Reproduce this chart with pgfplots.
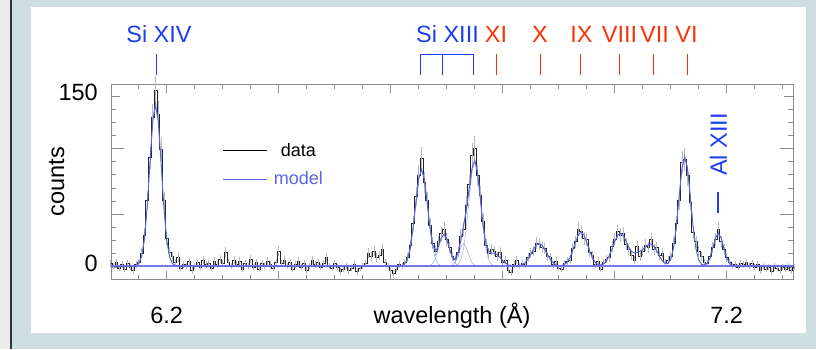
\documentclass[border=0pt]{standalone}
\usepackage{fontspec}
\setmainfont{Liberation Sans}
\usepackage{pgfplots}
\usepackage{pgfplotstable}
\pgfplotsset{compat=1.18}

\definecolor{bgpanel}{RGB}{205,223,227}
\definecolor{stripgrey}{RGB}{236,236,236}
\definecolor{idblue}{RGB}{28,60,245}
\definecolor{idred}{RGB}{250,50,10}
\definecolor{modelblue}{RGB}{90,100,228}
\definecolor{complight}{RGB}{160,170,240}
\definecolor{tickgrey}{RGB}{140,140,140}

% binned spectrum: bin centre (Angstrom), counts
\pgfplotstableread{
x y
6.100 3
6.105 1
6.110 4
6.115 -1
6.120 2
6.125 -2
6.130 3
6.135 0
6.140 -3
6.145 2
6.150 4
6.155 12
6.160 28
6.165 58
6.170 96
6.175 131
6.180 155
6.185 134
6.190 103
6.195 58
6.200 25
6.205 13
6.210 9
6.215 4
6.220 8
6.225 -1
6.230 2
6.235 1
6.240 5
6.245 -3
6.250 1
6.255 4
6.260 0
6.265 6
6.270 2
6.275 3
6.280 -1
6.285 5
6.290 2
6.295 7
6.300 3
6.305 13
6.310 4
6.315 1
6.320 6
6.325 2
6.330 5
6.335 -2
6.340 3
6.345 1
6.350 7
6.355 0
6.360 4
6.365 -2
6.370 3
6.375 1
6.380 5
6.385 2
6.390 -1
6.395 4
6.400 14
6.405 3
6.410 6
6.415 1
6.420 4
6.425 -2
6.430 2
6.435 5
6.440 0
6.445 3
6.450 -3
6.455 1
6.460 6
6.465 2
6.470 4
6.475 0
6.480 3
6.485 8
6.490 1
6.495 -1
6.500 3
6.505 0
6.510 -4
6.515 -2
6.520 1
6.525 -3
6.530 -1
6.535 2
6.540 -4
6.545 -1
6.550 1
6.555 3
6.560 12
6.565 9
6.570 14
6.575 8
6.580 10
6.585 15
6.590 4
6.595 1
6.600 -3
6.605 -6
6.610 -2
6.615 2
6.620 1
6.625 4
6.630 8
6.635 19
6.640 38
6.645 62
6.650 80
6.655 95
6.660 74
6.665 58
6.670 36
6.675 21
6.680 14
6.685 22
6.690 29
6.695 33
6.700 24
6.705 17
6.710 9
6.715 7
6.720 13
6.725 27
6.730 33
6.735 54
6.740 72
6.745 98
6.750 104
6.755 80
6.760 63
6.765 40
6.770 19
6.775 12
6.780 15
6.785 14
6.790 9
6.795 13
6.800 4
6.805 6
6.810 -3
6.815 -5
6.820 2
6.825 6
6.830 1
6.835 3
6.840 2
6.845 8
6.850 12
6.855 14
6.860 21
6.865 20
6.870 17
6.875 16
6.880 9
6.885 8
6.890 2
6.895 5
6.900 -1
6.905 -2
6.910 3
6.915 5
6.920 6
6.925 16
6.930 22
6.935 33
6.940 31
6.945 25
6.950 24
6.955 13
6.960 10
6.965 2
6.970 5
6.975 -2
6.980 4
6.985 7
6.990 8
6.995 18
7.000 24
7.005 31
7.010 28
7.015 29
7.020 20
7.025 15
7.030 10
7.035 6
7.040 18
7.045 9
7.050 14
7.055 19
7.060 17
7.065 24
7.070 15
7.075 17
7.080 10
7.085 12
7.090 4
7.095 6
7.100 9
7.105 21
7.110 38
7.115 58
7.120 92
7.125 94
7.130 80
7.135 57
7.140 30
7.145 22
7.150 14
7.155 9
7.160 4
7.165 3
7.170 9
7.175 17
7.180 24
7.185 33
7.190 22
7.195 15
7.200 8
7.205 4
7.210 1
7.215 2
7.220 0
7.225 3
7.230 2
7.235 4
7.240 1
7.245 3
7.250 0
7.255 2
7.260 -3
7.265 1
7.270 -2
7.275 0
7.280 -4
7.285 1
7.290 -1
7.295 -3
7.300 0
7.305 -2
7.310 1
7.315 -3
7.320 0
}\datatab

\begin{document}
\begin{tikzpicture}
% page background, left strip and white panel
\useasboundingbox (0pt,0pt) rectangle (816pt,349pt);
\fill[bgpanel] (0pt,0pt) rectangle (816pt,349pt);
\fill[stripgrey] (0pt,0pt) rectangle (10.5pt,349pt);
\draw[black!80, line width=1.4pt] (11pt,0pt) -- (11pt,349pt);
\fill[white] (31pt,16pt) rectangle (806pt,341.5pt);

\begin{axis}[
  at={(111pt,69.3pt)}, anchor=south west,
  width=682pt, height=195.7pt, scale only axis,
  xmin=6.1005, xmax=7.3184, ymin=-11.3, ymax=160.35,
  clip=false,
  axis line style={tickgrey, line width=0.6pt},
  tick style={tickgrey, line width=0.6pt},
  tick align=inside,
  major tick length=9pt, minor tick length=5pt,
  xtick={6.2,6.4,6.6,6.8,7.0,7.2},
  xticklabels={6.2,,,,,7.2},
  minor xtick={6.10,6.15,...,7.30},
  ytick={0,150}, yticklabels={0,150},
  minor ytick={11.54,23.08,34.62,57.69,69.23,80.77,92.31,115.38,126.92,138.46},
  extra y ticks={46.15,103.85}, extra y tick labels={},
  extra y tick style={major tick length=13pt},
  /pgf/number format/assume math mode=true,
  tick label style={font=\fontsize{23.5}{26}\selectfont},
  xticklabel style={inner sep=0pt, anchor=base, yshift=-43.6pt},
  yticklabel style={inner sep=0pt, anchor=east, xshift=-13pt, yshift=3pt},
  xlabel={wavelength (Å)},
  ylabel={counts},
  every axis x label/.style={at={(axis description cs:0.5,0)}, anchor=base,
    yshift=-43.6pt, inner sep=0pt, font=\fontsize{23.5}{26}\selectfont},
  every axis y label/.style={at={(axis description cs:-0.0796,0.5)}, rotate=90,
    anchor=center, inner sep=0pt, font=\fontsize{23.5}{26}\selectfont},
  legend style={at={(axis description cs:0.1638,0.5866)}, anchor=west,
    draw=none, fill=none, inner sep=0pt, row sep=10pt,
    font=\fontsize{18}{20}\selectfont},
  legend cell align=center,
  legend image code/.code={\draw[#1] (0pt,0pt) -- (44pt,0pt); \path (48pt,0pt);},
]
% measured counts with Poisson-like error bars
\addplot[black!85, line width=0.6pt, const plot mark mid, forget plot,
  error bars/.cd, y dir=both, y explicit,
  error bar style={gray!55, line width=0.5pt}, error mark=none]
  table[x=x, y=y, y error expr={sqrt(abs(\thisrow{y})+6)}] {\datatab};

% individual Si XIII line components
\addplot[complight, line width=0.5pt, forget plot] coordinates {
(6.615,0.6)(6.620,1.0)(6.625,2.6)(6.630,6.9)(6.635,16.7)(6.640,34.1)(6.645,56.8)
(6.650,77.2)(6.655,85.5)(6.660,77.2)(6.665,56.8)(6.670,34.1)(6.675,16.7)(6.680,6.9)
(6.685,2.6)(6.690,1.0)(6.695,0.6)};
\addplot[complight, line width=0.5pt, forget plot] coordinates {
(6.665,0.6)(6.670,1.1)(6.675,2.9)(6.680,7.5)(6.685,15.6)(6.690,24.5)(6.695,28.5)
(6.700,24.5)(6.705,15.6)(6.710,7.5)(6.715,2.9)(6.720,1.1)(6.725,0.6)};
\addplot[complight, line width=0.5pt, forget plot] coordinates {
(6.705,0.65)(6.710,1.4)(6.715,3.9)(6.720,9.7)(6.725,17.0)(6.730,20.5)(6.735,17.0)
(6.740,9.7)(6.745,3.9)(6.750,1.4)(6.755,0.65)};
\addplot[complight, line width=0.5pt, forget plot] coordinates {
(6.715,0.9)(6.720,2.05)(6.725,5.9)(6.730,15.5)(6.735,33.6)(6.740,58.9)(6.745,82.7)
(6.750,92.5)(6.755,82.7)(6.760,58.9)(6.765,33.6)(6.770,15.5)(6.775,5.9)(6.780,2.05)
(6.785,0.9)};

% continuum
\addplot[modelblue!85, line width=1.7pt, forget plot] coordinates {(6.1005,0.5) (7.3184,0.5)};

% total model
\addplot[modelblue, line width=1.0pt, forget plot] coordinates {
(6.100,0.5)(6.140,0.5)(6.145,1.05)(6.150,2.9)(6.155,8.85)(6.160,23.6)(6.165,51.6)
(6.170,90.7)(6.175,127.3)(6.180,142.5)(6.185,127.3)(6.190,90.7)(6.195,51.6)(6.200,23.6)
(6.205,8.85)(6.210,2.9)(6.215,1.05)(6.220,0.5)
(6.610,0.5)(6.615,0.6)(6.620,1.0)(6.625,2.6)(6.630,6.9)(6.635,16.7)(6.640,34.1)
(6.645,56.8)(6.650,77.2)(6.655,85.5)(6.660,77.2)(6.665,56.9)(6.670,34.7)(6.675,19.1)
(6.680,13.9)(6.685,17.7)(6.690,25.0)(6.695,28.6)(6.700,24.5)(6.705,15.8)(6.710,8.4)
(6.715,6.7)(6.720,11.8)(6.725,22.5)(6.730,35.5)(6.735,50.1)(6.740,68.1)(6.745,86.1)
(6.750,93.5)(6.755,83.3)(6.760,60.2)(6.765,36.3)(6.770,20.5)(6.775,13.6)(6.780,12.1)
(6.785,11.9)(6.790,10.6)(6.795,8.3)(6.800,5.5)(6.805,3.2)(6.810,1.7)(6.815,0.9)
(6.820,0.7)(6.825,0.7)(6.830,1.0)(6.835,1.9)(6.840,3.6)(6.845,6.6)(6.850,10.8)
(6.855,15.4)(6.860,19.1)(6.865,20.5)(6.870,19.1)(6.875,15.4)(6.880,10.8)(6.885,6.6)
(6.890,3.6)(6.895,1.9)(6.900,1.1)(6.905,1.1)(6.910,1.9)(6.915,3.9)(6.920,8.0)
(6.925,14.2)(6.930,21.7)(6.935,28.0)(6.940,30.5)(6.945,28.0)(6.950,21.7)(6.955,14.2)
(6.960,8.0)(6.965,4.0)(6.970,2.1)(6.975,1.7)(6.980,2.6)(6.985,5.1)(6.990,9.4)
(6.995,15.4)(7.000,22.1)(7.005,27.4)(7.010,29.5)(7.015,27.6)(7.020,22.8)(7.025,17.4)
(7.030,13.5)(7.035,12.2)(7.040,12.5)(7.045,13.6)(7.050,15.3)(7.055,17.4)(7.060,19.5)
(7.065,20.1)(7.070,18.1)(7.075,13.9)(7.080,9.2)(7.085,5.3)(7.090,3.0)(7.095,2.9)
(7.100,6.4)(7.105,16.2)(7.110,35.1)(7.115,61.5)(7.120,86.2)(7.125,96.5)(7.130,86.2)
(7.135,61.5)(7.140,35.1)(7.145,16.1)(7.150,6.2)(7.155,2.2)(7.160,1.5)(7.165,3.0)
(7.170,7.7)(7.175,16.1)(7.180,25.4)(7.185,29.5)(7.190,25.4)(7.195,16.1)(7.200,7.7)
(7.205,3.0)(7.210,1.1)(7.215,0.6)(7.220,0.5)(7.320,0.5)};

\addlegendimage{black, line width=0.8pt}
\addlegendentry{data}
\addlegendimage{modelblue, line width=1.0pt}
\addlegendentry{\textcolor{modelblue}{model}}

% line identifications
\addplot[idblue, line width=0.8pt, forget plot] coordinates {(6.1809,168.2) (6.1809,186.7)};
\addplot[idblue, line width=0.8pt, forget plot] coordinates {
(6.6534,168.2) (6.6534,186.7) (6.7468,186.7) (6.7468,168.2)};
\addplot[idblue, line width=0.8pt, forget plot] coordinates {(6.6929,168.2) (6.6929,186.7)};
\addplot[idred, line width=0.8pt, forget plot] coordinates {(6.7888,168.2) (6.7888,186.7)};
\addplot[idred, line width=0.8pt, forget plot] coordinates {(6.8666,168.2) (6.8666,186.7)};
\addplot[idred, line width=0.8pt, forget plot] coordinates {(6.9393,168.2) (6.9393,186.7)};
\addplot[idred, line width=0.8pt, forget plot] coordinates {(7.0091,168.2) (7.0091,186.7)};
\addplot[idred, line width=0.8pt, forget plot] coordinates {(7.0695,168.2) (7.0695,186.7)};
\addplot[idred, line width=0.8pt, forget plot] coordinates {(7.1300,168.2) (7.1300,186.7)};
\addplot[idblue, line width=1.2pt, forget plot] coordinates {(7.1845,47.2) (7.1845,65.6)};

\begin{scope}[every node/.style={font=\fontsize{23.5}{26}\selectfont, inner sep=0pt, anchor=base}]
\node[text=idblue] at (axis cs:6.1862,196.6) {Si XIV};
\node[text=idblue] at (axis cs:6.7014,196.6) {Si XIII};
\node[text=idred] at (axis cs:6.7880,196.6) {XI};
\node[text=idred] at (axis cs:6.8667,196.6) {X};
\node[text=idred] at (axis cs:6.9407,196.6) {IX};
\node[text=idred] at (axis cs:7.0086,196.6) {VIII};
\node[text=idred] at (axis cs:7.0711,196.6) {VII};
\node[text=idred] at (axis cs:7.1282,196.6) {VI};
\node[text=idblue, rotate=90] at (axis cs:7.2005,107.3) {Al XIII};
\end{scope}
\end{axis}
\end{tikzpicture}
\end{document}
